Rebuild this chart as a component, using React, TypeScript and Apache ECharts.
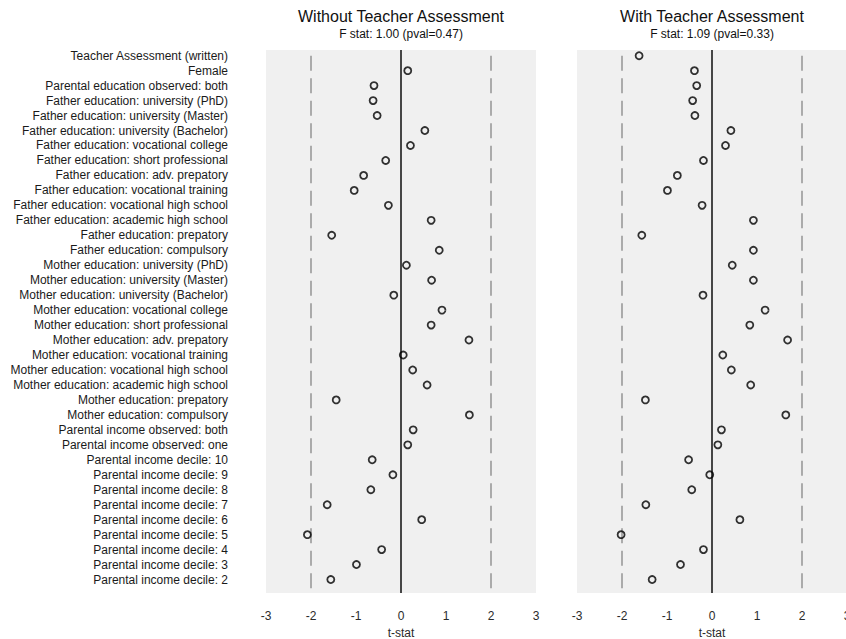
import React, { useEffect, useRef } from "react";
import * as echarts from "echarts";

const categories = [
  "Teacher Assessment (written)",
  "Female",
  "Parental education observed: both",
  "Father education: university (PhD)",
  "Father education: university (Master)",
  "Father education: university (Bachelor)",
  "Father education: vocational college",
  "Father education: short professional",
  "Father education: adv. prepatory",
  "Father education: vocational training",
  "Father education: vocational high school",
  "Father education: academic high school",
  "Father education: prepatory",
  "Father education: compulsory",
  "Mother education: university (PhD)",
  "Mother education: university (Master)",
  "Mother education: university (Bachelor)",
  "Mother education: vocational college",
  "Mother education: short professional",
  "Mother education: adv. prepatory",
  "Mother education: vocational training",
  "Mother education: vocational high school",
  "Mother education: academic high school",
  "Mother education: prepatory",
  "Mother education: compulsory",
  "Parental income observed: both",
  "Parental income observed: one",
  "Parental income decile: 10",
  "Parental income decile: 9",
  "Parental income decile: 8",
  "Parental income decile: 7",
  "Parental income decile: 6",
  "Parental income decile: 5",
  "Parental income decile: 4",
  "Parental income decile: 3",
  "Parental income decile: 2",
];

const tWithout: (number | null)[] = [
  null, 0.15, -0.6, -0.62, -0.53, 0.53, 0.21, -0.34, -0.83, -1.04, -0.28, 0.67, -1.54, 0.85,
  0.12, 0.68, -0.16, 0.91, 0.67, 1.51, 0.05, 0.26, 0.58, -1.44, 1.52,
  0.27, 0.15, -0.64, -0.18, -0.67, -1.64, 0.46, -2.08, -0.43, -0.99, -1.56,
];

const tWith: (number | null)[] = [
  -1.62, -0.39, -0.34, -0.43, -0.38, 0.42, 0.3, -0.19, -0.77, -0.99, -0.22, 0.92, -1.56, 0.92,
  0.45, 0.92, -0.2, 1.18, 0.84, 1.68, 0.24, 0.43, 0.86, -1.48, 1.64,
  0.21, 0.13, -0.52, -0.05, -0.45, -1.47, 0.62, -2.02, -0.19, -0.7, -1.33,
];

const panelTitles = ["Without Teacher Assessment", "With Teacher Assessment"];
const panelSubtitles = ["F stat: 1.00 (pval=0.47)", "F stat: 1.09 (pval=0.33)"];
const criticalValues = [-2, 2];

export default function App() {
  const ref = useRef<HTMLDivElement>(null);

  useEffect(() => {
    document.body.style.margin = "0";
    const chart = echarts.init(ref.current!, null, { renderer: "svg" });
    const font = '"Liberation Sans", Arial, Helvetica, sans-serif';
    const yMin = -0.38;
    const yMax = 35.9;
    const grids: any[] = [
      { left: 266, top: 50, width: 270, height: 543 },
      { left: 577, top: 50, width: 270, height: 543 },
    ];
    const centers = [266 + 135, 577 + 135];
    const panels = [tWithout, tWith];

    const xAxes = grids.map((_, i) => ({
      type: "value",
      gridIndex: i,
      min: -3,
      max: 3,
      interval: 1,
      axisLine: { show: false },
      axisTick: { show: false },
      splitLine: { show: false },
      axisLabel: { fontFamily: font, fontSize: 12, color: "#2a2a2a", margin: 17 },
      name: "t-stat",
      nameLocation: "middle",
      nameGap: 29,
      nameTextStyle: { fontFamily: font, fontSize: 12, color: "#2a2a2a" },
    }));

    const yAxes = grids.map((_, i) => ({
      type: "value",
      gridIndex: i,
      inverse: true,
      min: yMin,
      max: yMax,
      axisLine: { show: false },
      axisTick: { show: false },
      splitLine: { show: false },
      axisLabel: {
        show: i === 0,
        customValues: categories.map((_, k) => k),
        formatter: (v: number) => categories[Math.round(v)] ?? "",
        fontFamily: font,
        fontSize: 12,
        color: "#1a1a1a",
        margin: 38,
      },
    }));

    const series: any[] = [];
    panels.forEach((vals, i) => {
      criticalValues.forEach((c) => {
        series.push({
          type: "line",
          xAxisIndex: i,
          yAxisIndex: i,
          data: [
            [c, 0],
            [c, yMax],
          ],
          symbol: "none",
          silent: true,
          lineStyle: { color: "#9a9a9a", width: 1.6, type: [15, 7.5] },
          z: 2,
        });
      });
      series.push({
        type: "line",
        xAxisIndex: i,
        yAxisIndex: i,
        data: [
          [0, yMin],
          [0, yMax],
        ],
        symbol: "none",
        silent: true,
        lineStyle: { color: "#333", width: 1.8 },
        z: 2,
      });
      series.push({
        type: "scatter",
        xAxisIndex: i,
        yAxisIndex: i,
        symbol: "circle",
        symbolSize: 7,
        itemStyle: { color: "rgba(0,0,0,0)", borderColor: "#000", borderWidth: 1.8 },
        data: vals
          .map((v, k) => (v === null ? null : [v, k]))
          .filter((d) => d !== null),
        z: 5,
      });
    });

    const graphic: any[] = [];
    centers.forEach((cx, i) => {
      graphic.push({
        type: "text",
        x: cx,
        y: 16,
        style: {
          text: panelTitles[i],
          font: `16px ${font}`,
          fill: "#111",
          textAlign: "center",
          textVerticalAlign: "middle",
          align: "center",
          verticalAlign: "middle",
        },
      });
      graphic.push({
        type: "text",
        x: cx,
        y: 34,
        style: {
          text: panelSubtitles[i],
          font: `12px ${font}`,
          fill: "#111",
          textAlign: "center",
          textVerticalAlign: "middle",
          align: "center",
          verticalAlign: "middle",
        },
      });
    });

    chart.setOption({
      animation: false,
      backgroundColor: "#ffffff",
      grid: grids.map((g) => ({
        ...g,
        show: true,
        backgroundColor: "#f0f0f0",
        borderWidth: 0,
        containLabel: false,
        outerBoundsMode: "none",
      })),
      xAxis: xAxes,
      yAxis: yAxes,
      series,
      graphic,
    });

    return () => {
      chart.dispose();
    };
  }, []);

  return <div ref={ref} style={{ width: 846, height: 639 }} />;
}
